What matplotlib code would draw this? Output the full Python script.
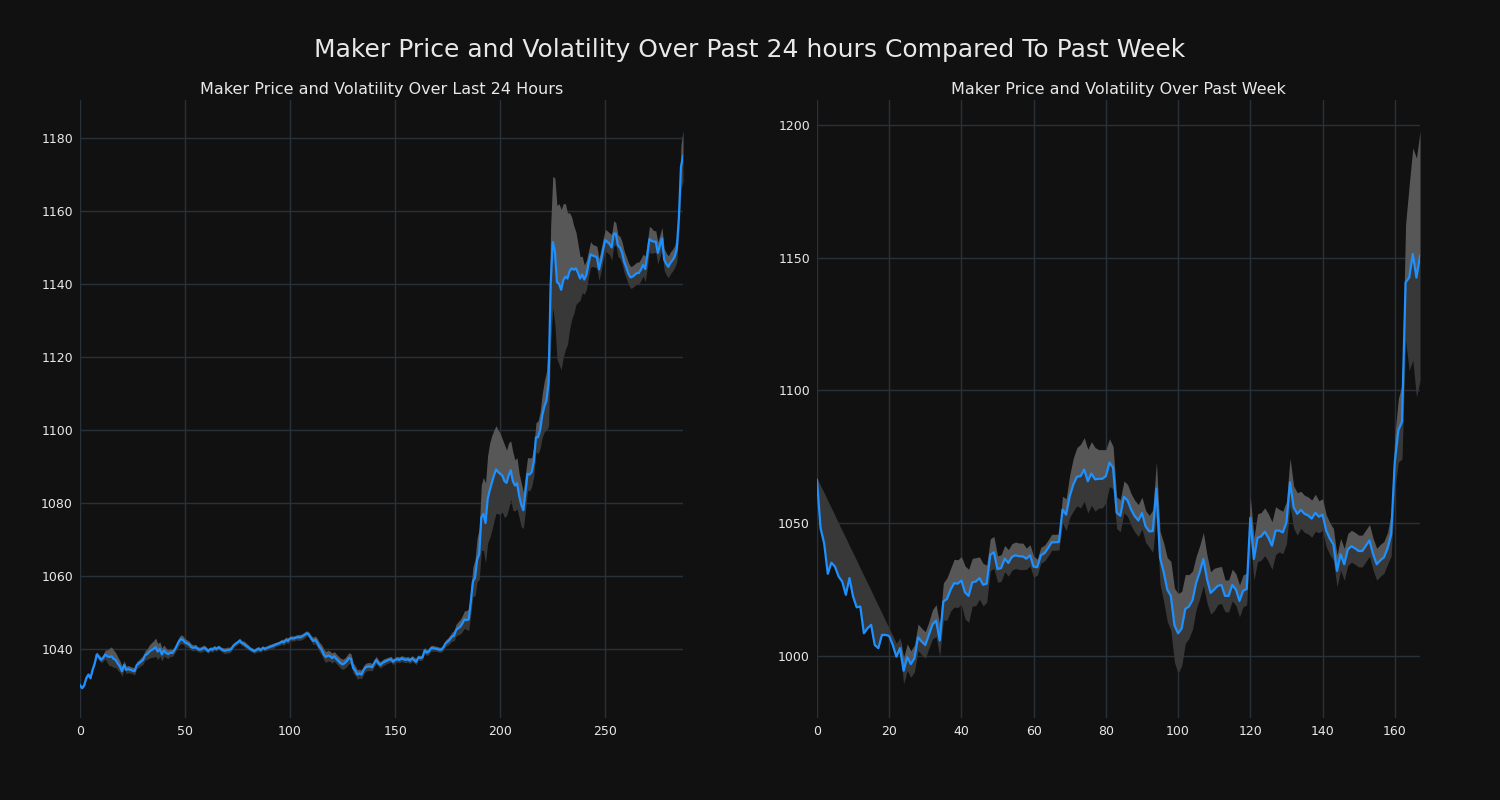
import matplotlib
matplotlib.use("Agg")
import matplotlib.pyplot as plt
import matplotlib.ticker as mtick
import numpy as np

# Last 24 hours, 5 minute steps (288 points)
day_price = [
    1030.1, 1029.3, 1030.0, 1032.0, 1033.0, 1032.0, 1034.3, 1036.0, 1038.5, 1037.8,
    1037.0, 1037.5, 1038.5, 1038.0, 1037.8, 1038.0, 1037.3, 1037.0, 1036.0, 1035.2,
    1033.9, 1035.6, 1034.3, 1034.5, 1034.3, 1034.1, 1033.9, 1035.6, 1036.0, 1036.5,
    1037.0, 1038.3, 1038.6, 1039.3, 1039.7, 1040.0, 1040.5, 1039.3, 1040.0, 1038.5,
    1039.6, 1038.9, 1038.6, 1039.0, 1038.9, 1039.7, 1040.8, 1042.0, 1042.7, 1042.5,
    1041.8, 1041.5, 1041.2, 1040.5, 1040.3, 1040.5, 1040.0, 1039.8, 1040.0, 1040.3,
    1040.0, 1039.4, 1040.0, 1039.8, 1040.3, 1040.0, 1040.5, 1040.0, 1039.7, 1039.5,
    1039.7, 1039.7, 1040.0, 1040.9, 1041.4, 1041.8, 1042.3, 1041.6, 1041.4, 1040.9,
    1040.5, 1040.0, 1039.7, 1039.4, 1039.8, 1040.0, 1039.7, 1040.3, 1040.0, 1040.3,
    1040.5, 1040.7, 1040.9, 1041.2, 1041.4, 1041.6, 1042.0, 1041.8, 1042.5, 1042.2,
    1042.9, 1042.9, 1042.9, 1043.2, 1043.2, 1043.2, 1043.5, 1043.9, 1044.3, 1043.9,
    1042.9, 1042.2, 1042.5, 1041.6, 1040.5, 1039.8, 1038.5, 1037.8, 1038.2, 1038.0,
    1037.5, 1038.0, 1037.3, 1036.7, 1036.1, 1035.8, 1036.1, 1036.7, 1037.5, 1037.3,
    1034.8, 1034.1, 1033.0, 1033.3, 1033.0, 1034.3, 1035.0, 1035.2, 1035.2, 1035.0,
    1036.1, 1037.0, 1036.1, 1035.6, 1036.2, 1036.5, 1036.8, 1037.0, 1037.2, 1036.5,
    1037.0, 1037.2, 1037.0, 1037.4, 1037.2, 1037.0, 1037.2, 1036.8, 1037.4, 1037.0,
    1036.5, 1037.7, 1037.5, 1037.7, 1039.6, 1039.0, 1039.3, 1040.2, 1040.2, 1040.1,
    1040.0, 1039.8, 1039.8, 1040.5, 1041.6, 1042.0, 1042.6, 1043.4, 1043.6, 1045.2,
    1045.7, 1046.1, 1047.0, 1048.1, 1047.9, 1048.1, 1053.0, 1058.5, 1059.5, 1064.5,
    1066.0, 1076.0, 1077.0, 1074.5, 1081.0, 1083.5, 1085.5, 1087.5, 1089.2, 1088.5,
    1088.0, 1087.5, 1086.0, 1085.5, 1087.5, 1089.0, 1086.0, 1084.8, 1085.4, 1082.0,
    1079.5, 1078.0, 1083.0, 1088.0, 1087.8, 1088.5, 1091.5, 1098.0, 1098.0, 1100.0,
    1104.0, 1106.5, 1108.0, 1113.0, 1140.0, 1151.5, 1149.0, 1140.5, 1140.0, 1138.4,
    1141.0, 1142.0, 1141.5, 1143.5, 1144.3, 1143.9, 1144.3, 1143.0, 1141.5, 1142.6,
    1141.2, 1142.5, 1145.5, 1148.1, 1147.8, 1147.6, 1147.3, 1144.0, 1146.5, 1149.5,
    1152.0, 1151.5, 1151.0, 1150.0, 1153.8, 1153.8, 1150.5, 1150.0, 1148.5, 1146.0,
    1144.5, 1142.8, 1141.8, 1142.0, 1142.5, 1143.0, 1143.0, 1144.0, 1145.2, 1144.1,
    1148.0, 1152.3, 1151.8, 1151.6, 1151.6, 1148.5, 1150.5, 1152.5, 1146.7, 1145.5,
    1144.7, 1145.8, 1146.5, 1147.5, 1149.5, 1158.0, 1172.0, 1175.0,
]
day_vol = (
    [0.3, 0.3, 0.4, 0.4, 0.5, 0.5, 0.6, 0.6, 0.7, 0.7, 0.8, 0.9]
    + [1.2, 1.8, 2.4, 2.6, 2.4, 2.0, 1.8, 1.6, 1.4]
    + [1.2, 1.0, 1.0, 0.9, 0.9, 1.0, 1.0]
    + [1.0, 1.1, 1.2, 1.3, 1.5, 1.8, 2.0, 2.2, 2.5, 2.2, 2.0, 1.8, 1.5]
    + [1.3, 1.2, 1.0, 1.0, 0.9, 1.0, 1.1]
    + [1.2, 1.1, 1.0, 1.0, 0.9, 0.9, 0.8, 0.8]
    + [0.7, 0.7, 0.8, 0.8, 0.7, 0.6, 0.6, 0.7, 0.7, 0.6, 0.6, 0.6, 0.7, 0.8, 0.8,
       0.8, 0.7, 0.6, 0.6, 0.6, 0.7, 0.7, 0.8, 0.8, 0.7, 0.6, 0.6, 0.6, 0.7, 0.7,
       0.6, 0.6, 0.6, 0.6, 0.7, 0.7, 0.7, 0.6, 0.6, 0.6, 0.7, 0.8, 0.8, 0.8, 0.7,
       0.7, 0.7, 0.7, 0.8, 0.8, 0.8, 0.8, 0.7, 0.7, 0.8]
    + [1.0, 1.1, 1.2, 1.3, 1.4, 1.5, 1.5, 1.5, 1.4, 1.4, 1.3, 1.3, 1.3, 1.4, 1.4,
       1.4, 1.5, 1.5, 1.4, 1.4]
    + [1.3, 1.3, 1.2, 1.2, 1.2, 1.1, 1.1, 1.1, 1.0, 1.0, 1.0, 0.9, 0.9, 0.9, 0.9,
       0.8, 0.8, 0.8, 0.8, 0.8, 0.8, 0.8, 0.8, 0.8, 0.8, 0.8, 0.8, 0.8, 0.8, 0.8]
    + [0.7, 0.7, 0.7, 0.8, 0.8, 0.8, 0.8, 0.8, 0.7, 0.7, 0.7, 0.7, 0.8, 0.9, 1.0, 1.1]
    + [1.2, 1.4, 1.6, 1.8, 2.0, 2.2, 2.4, 2.6, 3.0, 3.5]
    + [4.0, 5.0, 6.0, 7.0]
    + [9.0, 10.0, 11.0, 12.0, 13.0, 13.0, 12.5, 12.0, 11.5, 11.0]
    + [10.0, 10.0, 9.0, 9.0, 8.0, 8.0, 7.0, 7.0, 6.0, 6.0]
    + [5.0, 5.0, 4.5, 4.5, 4.0, 4.0, 4.0, 4.5, 5.0, 6.0, 7.0, 8.0]
    + [12.0, 16.0, 18.0, 20.0, 21.0, 22.0, 22.0, 21.0, 20.0, 18.0, 16.0, 14.0, 12.0, 10.0, 8.0]
    + [6.0, 5.0, 4.0, 4.0, 3.5, 3.5, 3.0, 3.0, 3.0, 3.0]
    + [3.0, 3.0, 3.0, 3.0, 3.0, 3.5, 3.5, 3.0, 3.0, 3.0, 3.0, 3.0, 3.0, 3.0, 3.0,
       3.0, 3.0, 3.0, 3.0, 3.0, 3.0, 3.5, 3.5, 3.5, 3.5, 3.0, 3.0, 3.0, 3.0, 3.0,
       3.0, 3.0, 3.0, 3.0, 3.0, 3.0, 3.5, 4.0, 6.0, 7.0]
)

# Past week, hourly steps (168 points)
week_price = [
    1066.3, 1048.1, 1042.4, 1030.9, 1035.1, 1033.6, 1029.9, 1028.0, 1023.0, 1029.3,
    1022.4, 1018.3, 1018.6, 1008.5, 1010.4, 1011.7, 1004.1, 1002.9, 1007.9, 1007.9,
    1007.5, 1004.1, 999.7, 1002.9, 994.4, 999.5, 996.9, 999.1, 1007.0, 1005.4,
    1004.1, 1007.9, 1011.9, 1013.3, 1005.8, 1020.5, 1021.4, 1024.9, 1027.4, 1027.2,
    1028.4, 1023.9, 1022.6, 1027.7, 1028.0, 1029.3, 1026.8, 1027.2, 1038.1, 1039.0,
    1032.7, 1033.1, 1036.6, 1035.0, 1037.3, 1037.9, 1037.5, 1037.5, 1036.6, 1037.9,
    1033.6, 1033.4, 1037.9, 1038.7, 1040.6, 1042.8, 1042.8, 1042.9, 1055.1, 1053.2,
    1060.2, 1064.6, 1067.5, 1067.7, 1070.2, 1065.8, 1068.7, 1066.5, 1066.7, 1066.7,
    1067.7, 1072.8, 1070.9, 1053.9, 1052.8, 1059.9, 1058.6, 1055.1, 1052.6, 1051.0,
    1053.8, 1048.8, 1046.9, 1047.0, 1063.0, 1037.0, 1031.6, 1025.0, 1022.6, 1011.5,
    1008.5, 1010.3, 1017.7, 1018.6, 1021.0, 1027.5, 1031.6, 1036.5, 1029.0, 1023.7,
    1025.0, 1026.4, 1026.7, 1022.6, 1022.6, 1026.7, 1025.0, 1020.7, 1024.5, 1025.2,
    1052.0, 1036.5, 1044.5, 1045.0, 1046.8, 1044.5, 1041.5, 1047.2, 1047.2, 1046.5,
    1050.2, 1065.4, 1056.0, 1053.5, 1055.0, 1053.5, 1052.9, 1051.7, 1053.9, 1052.4,
    1053.2, 1047.2, 1044.2, 1042.0, 1032.0, 1038.3, 1034.5, 1040.1, 1041.3, 1040.5,
    1039.5, 1039.5, 1041.5, 1043.5, 1038.3, 1034.5, 1036.0, 1037.1, 1040.5, 1045.7,
    1073.0, 1085.0, 1088.2, 1140.7, 1142.5, 1151.4, 1142.5, 1150.7,
]
week_vol = (
    [0.7, 16.0, 19.0, 27.6, 20.6, 19.3, 20.0, 19.2, 21.4, 12.2, 16.3, 17.6,
     14.4, 21.7, 17.0, 12.9, 17.6, 16.0, 8.2, 5.3, 2.9, 3.5, 5.0, 4.0]
    + [5.0, 5.0, 5.0, 5.0, 5.0, 5.0, 5.0, 5.0, 5.5, 6.0, 6.0]
    + [7.0, 8.0, 8.0, 9.0, 9.0, 9.0, 10.0, 10.0, 9.0, 9.0, 8.0, 8.0, 7.0]
    + [6.0, 6.0, 5.0, 5.0, 5.0, 5.0, 5.0, 5.0, 5.0, 5.0, 4.0, 4.0, 4.0]
    + [3.0, 3.0, 3.0, 3.0, 3.0, 3.0, 3.0]
    + [5.0, 6.0, 8.0, 10.0, 11.0, 12.0, 12.0, 12.0, 12.0, 12.0, 11.0, 11.0, 10.0, 9.0, 8.0]
    + [6.0, 6.0, 6.0, 6.0, 6.0, 6.0, 6.0, 6.0, 6.0, 6.0]
    + [8.0, 10.0, 10.0, 11.0, 12.0, 13.0, 14.0, 15.0]
    + [14.0, 13.0, 12.0, 11.0, 10.0, 10.0, 10.0, 9.0, 8.0, 8.0]
    + [7.0, 7.0, 6.0, 6.0, 6.0, 6.0, 6.0, 6.0]
    + [6.0, 8.0, 8.0, 9.0, 9.0, 9.0, 9.0, 9.0, 9.0, 8.0, 8.0, 8.0]
    + [9.0, 8.0, 8.0, 7.0, 7.0, 7.0, 7.0, 7.0, 6.0, 6.0]
    + [6.0] * 18
    + [8.0, 10.0, 12.0, 14.0]
    + [22.0, 35.0, 40.0, 45.0, 47.0]
)
# the weekly band has only a thin upper half during the first day
week_lead = 24

bg = "#111111"
grid_color = "#28303a"
text_color = "#e8e8e8"
line_color = "#1e90ff"
upper_color = "#575757"
lower_color = "#383838"


def draw_panel(ax, price, vol, title, lead=0):
    x = np.arange(len(price))
    price = np.array(price)
    vol = np.array(vol)
    low_vol = np.where(x < lead, 0.0, vol)
    # lead part of the band is drawn in the darker grey
    ax.fill_between(x, price, price + vol, where=x >= lead - 1,
                    color=upper_color, linewidth=0)
    if lead:
        ax.fill_between(x, price, price + vol, where=x <= lead - 1,
                        color=lower_color, linewidth=0)
    ax.fill_between(x, price - low_vol, price, color=lower_color, linewidth=0)
    ax.plot(x, price, color=line_color, linewidth=1.6)
    ax.set_xlim(0, len(price) - 1)
    ax.set_facecolor(bg)
    ax.grid(True, color=grid_color, linewidth=1)
    ax.set_axisbelow(True)
    for s in ax.spines.values():
        s.set_visible(False)
    ax.tick_params(colors=text_color, labelsize=9, length=0, pad=5)
    ax.set_title(title, color=text_color, fontsize=11.5, pad=4)


fig, (ax1, ax2) = plt.subplots(1, 2, figsize=(15, 8), dpi=100)
fig.patch.set_facecolor(bg)
fig.subplots_adjust(left=0.0533, right=0.9467, bottom=0.1025, top=0.875, wspace=0.222)

draw_panel(ax1, day_price, day_vol, "Maker Price and Volatility Over Last 24 Hours")
ax1.set_ylim(1021.1, 1190.4)
ax1.xaxis.set_major_locator(mtick.MultipleLocator(50))
ax1.yaxis.set_major_locator(mtick.MultipleLocator(20))

draw_panel(ax2, week_price, week_vol, "Maker Price and Volatility Over Past Week", lead=week_lead)
ax2.set_ylim(976.6, 1209.4)
ax2.xaxis.set_major_locator(mtick.MultipleLocator(20))
ax2.yaxis.set_major_locator(mtick.MultipleLocator(50))

fig.suptitle("Maker Price and Volatility Over Past 24 hours Compared To Past Week",
             color=text_color, fontsize=18, y=0.9375, va="center")

plt.savefig("out.png", dpi=100, facecolor=bg)
